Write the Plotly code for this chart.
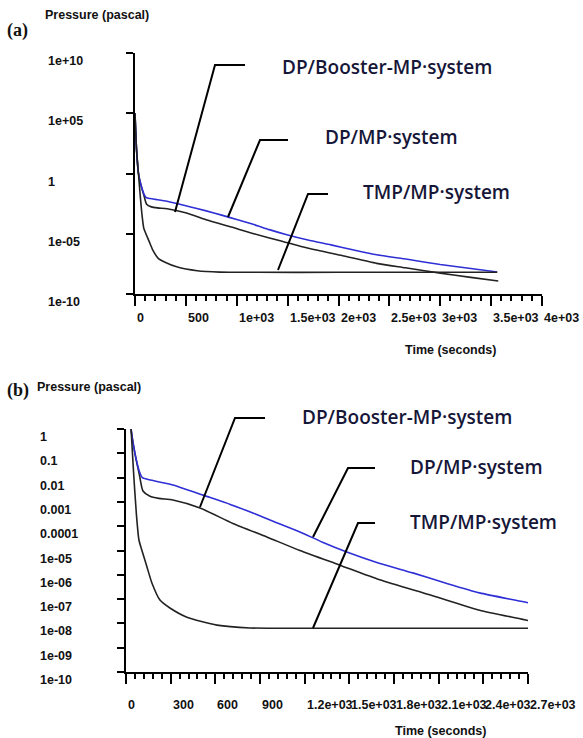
import plotly.graph_objects as go

W, H = 583, 738

# ---------------- data ----------------
time_dp_mp = [0, 15, 34, 60, 90, 110, 150, 200, 315, 517, 700, 852, 1000, 1168, 1320,
              1483, 1700, 1926, 2150, 2375, 2677, 3000, 3300, 3560]
p_dp_mp = [1e5, 1e2, 1.0, 1e-1, 1.8e-2, 1.0e-2, 8.3e-3, 7.1e-3, 5.0e-3, 1.9e-3, 7.9e-4,
           3.5e-4, 1.5e-4, 5.8e-5, 2.2e-5, 8.7e-6, 3.0e-6, 1.2e-6, 4.5e-7, 1.8e-7, 7.6e-8,
           2.8e-8, 1.3e-8, 6.6e-9]

time_dp_booster = [0, 15, 34, 60, 90, 114, 161, 220, 315, 497, 718, 946, 1168, 1436, 1704,
                   2040, 2375, 2657, 3000, 3300, 3570]
p_dp_booster = [1e5, 1e2, 1.0, 1e-1, 1.3e-2, 2.8e-3, 1.7e-3, 1.4e-3, 1.2e-3, 5.6e-4, 1.3e-4,
                3.6e-5, 1.0e-5, 2.5e-6, 6.2e-7, 1.5e-7, 3.5e-8, 1.5e-8, 5.4e-9, 2.4e-9, 1.2e-9]

time_tmp_mp = [0, 15, 34, 50, 70, 87, 107, 141, 174, 228, 295, 409, 611, 832, 1200, 2000,
               2700, 3560]
p_tmp_mp = [1e5, 1e2, 1.0, 2e-2, 3e-4, 2.7e-5, 1.0e-5, 2.1e-6, 4.6e-7, 9.1e-8, 4.3e-8,
            1.8e-8, 8.5e-9, 6.5e-9, 6.3e-9, 6.3e-9, 6.3e-9, 6.3e-9]

series_names = ["DP/Booster-MP·system", "DP/MP·system", "TMP/MP·system"]

# tick labels
a_xticks = [0, 500, 1000, 1500, 2000, 2500, 3000, 3500, 4000]
a_xlabels = ["0", "500", "1e+03", "1.5e+03", "2e+03", "2.5e+03", "3e+03", "3.5e+03", "4e+03"]
a_yticks = [1e10, 1e5, 1, 1e-5, 1e-10]
a_yexp = [10, 5, 0, -5, -10]
a_ylabels = ["1e+10", "1e+05", "1", "1e-05", "1e-10"]

b_xticks = [0, 300, 600, 900, 1200, 1500, 1800, 2100, 2400, 2700]
b_xlabels = ["0", "300", "600", "900", "1.2e+03", "1.5e+03", "1.8e+03", "2.1e+03",
             "2.4e+03", "2.7e+03"]
b_yticks = [1, 1e-1, 1e-2, 1e-3, 1e-4, 1e-5, 1e-6, 1e-7, 1e-8, 1e-9, 1e-10]
b_yexp = [0, -1, -2, -3, -4, -5, -6, -7, -8, -9, -10]
b_ylabels = ["1", "0.1", "0.01", "0.001", "0.0001", "1e-05", "1e-06", "1e-07", "1e-08",
             "1e-09", "1e-10"]

# ---------------- styling / layout ----------------
BLUE = "#2f2fd6"
DARK = "#222222"
TICK_FONT = dict(family="Liberation Sans, Arial", size=12.5, color="#111")
LABEL_FONT = dict(family="Open Sans", size=19, color="#161638", weight=600)
SERIF = dict(family="Liberation Serif", size=18, color="#111")


def px(x):
    return x / W


def py(y):
    return 1 - y / H


fig = go.Figure()
curves = [
    (time_dp_booster, p_dp_booster, DARK, series_names[0]),
    (time_dp_mp, p_dp_mp, BLUE, series_names[1]),
    (time_tmp_mp, p_tmp_mp, DARK, series_names[2]),
]
for xa, ya in (("x", "y"), ("x2", "y2")):
    for t, p, c, n in curves:
        fig.add_trace(go.Scatter(x=t, y=p, mode="lines", name=n, xaxis=xa, yaxis=ya,
                                 line=dict(color=c, width=1.6, shape="spline", smoothing=0.6),
                                 showlegend=False, hoverinfo="skip"))

axis_common = dict(showline=True, linewidth=1.8, linecolor="black", ticks="outside",
                   tickwidth=1.8, tickcolor="black", showticklabels=False, showgrid=False,
                   zeroline=False, fixedrange=True)
minor_common = dict(tick0=0, ticks="outside", ticklen=5, tickwidth=1.5,
                    tickcolor="black", showgrid=False)

fig.update_layout(
    width=W, height=H, autosize=False,
    margin=dict(l=0, r=0, t=0, b=0),
    paper_bgcolor="white", plot_bgcolor="white",
    xaxis=dict(domain=[px(135), px(542)], range=[0, 4000], anchor="y",
               tickmode="linear", tick0=0, dtick=500, ticklen=10,
               minor=dict(dtick=100, **minor_common), **axis_common),
    yaxis=dict(domain=[py(294), py(53)], type="log", range=[-10, 10], anchor="x",
               tickmode="array", tickvals=a_yticks, ticklen=7, **axis_common),
    xaxis2=dict(domain=[px(126), px(528)], range=[0, 2700], anchor="y2",
                tickmode="linear", tick0=0, dtick=300, ticklen=10,
                minor=dict(dtick=60, **minor_common), **axis_common),
    yaxis2=dict(domain=[py(672), py(429)], type="log", range=[-10, 0], anchor="x2",
                tickmode="array", tickvals=b_yticks, ticklen=7, **axis_common),
)

ann = []
# tick label annotations (left/top-aligned as in the original)
for v, s in zip(a_xticks, a_xlabels):
    ann.append(dict(x=v, xref="x", y=py(318), yref="paper", text="<b>" + s + "</b>",
                    showarrow=False, xanchor="left", yanchor="middle", font=TICK_FONT))
for e, s in zip(a_yexp, a_ylabels):
    ann.append(dict(x=px(46), xref="paper", y=e, yref="y", text="<b>" + s + "</b>",
                    showarrow=False, xanchor="left", yanchor="middle", yshift=-8,
                    font=TICK_FONT))
for v, s in zip(b_xticks, b_xlabels):
    ann.append(dict(x=v, xref="x2", y=py(705), yref="paper", text="<b>" + s + "</b>",
                    showarrow=False, xanchor="left", yanchor="middle", font=TICK_FONT))
for e, s in zip(b_yexp, b_ylabels):
    ann.append(dict(x=px(38), xref="paper", y=e, yref="y2", text="<b>" + s + "</b>",
                    showarrow=False, xanchor="left", yanchor="middle", yshift=-8,
                    font=TICK_FONT))

# axis titles and panel letters
texts = [
    ("Pressure (pascal)", 43, 15, TICK_FONT),
    ("Time (seconds)", 403, 350, TICK_FONT),
    ("Pressure (pascal)", 35, 387, TICK_FONT),
    ("Time (seconds)", 393, 731, TICK_FONT),
    ("(a)", 5, 30, SERIF),
    ("(b)", 5, 390, SERIF),
]
# curve labels
label_pos = [
    (series_names[0], 280, 67), (series_names[1], 323, 137), (series_names[2], 361, 192),
    (series_names[0], 300, 417), (series_names[1], 408, 467), (series_names[2], 408, 522),
]
for s, x, y, f in texts:
    ann.append(dict(x=px(x), y=py(y), xref="paper", yref="paper", text="<b>" + s + "</b>",
                    showarrow=False, xanchor="left", yanchor="middle", font=f))
for s, x, y in label_pos:
    ann.append(dict(x=px(x), y=py(y), xref="paper", yref="paper", text=s, showarrow=False,
                    xanchor="left", yanchor="middle", font=LABEL_FONT))
fig.update_layout(annotations=ann)

# leader lines (pixel geometry of the callouts)
leaders = [
    [(175, 212), (215, 65), (245, 65)],
    [(228, 217), (260, 140), (288, 140)],
    [(278, 270), (308, 194), (328, 194)],
    [(200, 507), (235, 418), (265, 418)],
    [(313, 537), (348, 468), (375, 468)],
    [(313, 628), (358, 523), (375, 523)],
]
shapes = []
for pts in leaders:
    path = "M " + " L ".join(f"{px(x):.5f},{py(y):.5f}" for x, y in pts)
    shapes.append(dict(type="path", path=path, xref="paper", yref="paper",
                       line=dict(color="black", width=2)))
fig.update_layout(shapes=shapes)

fig.write_html("out.html")
